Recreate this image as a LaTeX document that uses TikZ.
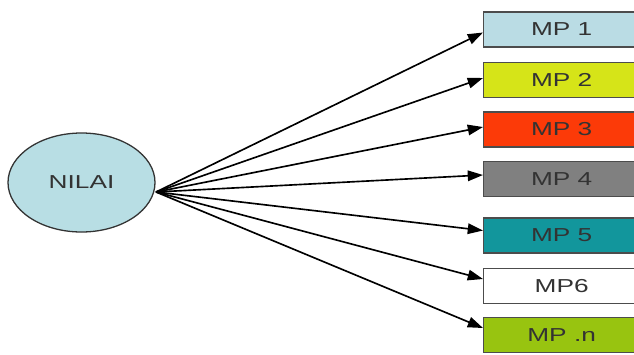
\documentclass[tikz,border=0pt]{standalone}
\usepackage{fontspec}
\newfontfamily\boxfont[FakeStretch=1.4]{Liberation Sans}
\usetikzlibrary{shapes.geometric,arrows.meta}

\definecolor{nilaiblue}{RGB}{184,222,228}
\definecolor{mpblue}{RGB}{186,220,228}
\definecolor{mplime}{RGB}{214,228,24}
\definecolor{mpred}{RGB}{252,58,8}
\definecolor{mpgray}{RGB}{128,128,128}
\definecolor{mpteal}{RGB}{18,150,156}
\definecolor{mpgreen}{RGB}{152,196,16}

\begin{document}
\begin{tikzpicture}[x=0.03cm, y=-0.03cm,
  root/.style={ellipse, draw=black!80, line width=1.1pt, fill=nilaiblue, minimum width=4.41cm, minimum height=2.97cm, inner sep=0pt, font=\boxfont\fontsize{16}{18}\selectfont, text=black!80},
  mpbox/.style={rectangle, draw=black!70, line width=1.1pt, minimum width=5.4cm, minimum height=1.05cm, inner sep=0pt, font=\boxfont\fontsize{16}{18}\selectfont, text=black!80},
  arrow/.style={-{Triangle[length=13pt,width=9pt]}, line width=1.4pt, black}
]
\useasboundingbox (0,0) rectangle (634,354);
\clip (0,0) rectangle (634,354);

% Source node
\node[root] (nilai) at (81.5,182.5) {NILAI};
\coordinate (hub) at (156,192);

% Target boxes
\node[mpbox, fill=mpblue, anchor=west] (mp1) at (483,29.5) {\hspace*{-0.72cm}MP 1};
\node[mpbox, fill=mplime, anchor=west] (mp2) at (483,80) {\hspace*{-0.72cm}MP 2};
\node[mpbox, fill=mpred, anchor=west] (mp3) at (483,129.5) {\hspace*{-0.72cm}MP 3};
\node[mpbox, fill=mpgray, anchor=west] (mp4) at (483,179) {\hspace*{-0.72cm}MP 4};
\node[mpbox, fill=mpteal, anchor=west] (mp5) at (483,235.5) {\hspace*{-0.72cm}MP 5};
\node[mpbox, fill=white, anchor=west] (mp6) at (483,286) {\hspace*{-0.72cm}MP6};
\node[mpbox, fill=mpgreen, anchor=west] (mpn) at (483,335) {\hspace*{-0.72cm}MP .n};

% Edges
\draw[line width=1.4pt] (nilai.east |- hub) -- (hub);
\foreach \t/\s in {mp1/3, mp2/-2, mp3/-2.5, mp4/-4, mp5/-5, mp6/-7, mpn/-7}
  \draw[arrow] (hub) -- ([yshift=-\s*0.03cm]\t.west);
\end{tikzpicture}
\end{document}
